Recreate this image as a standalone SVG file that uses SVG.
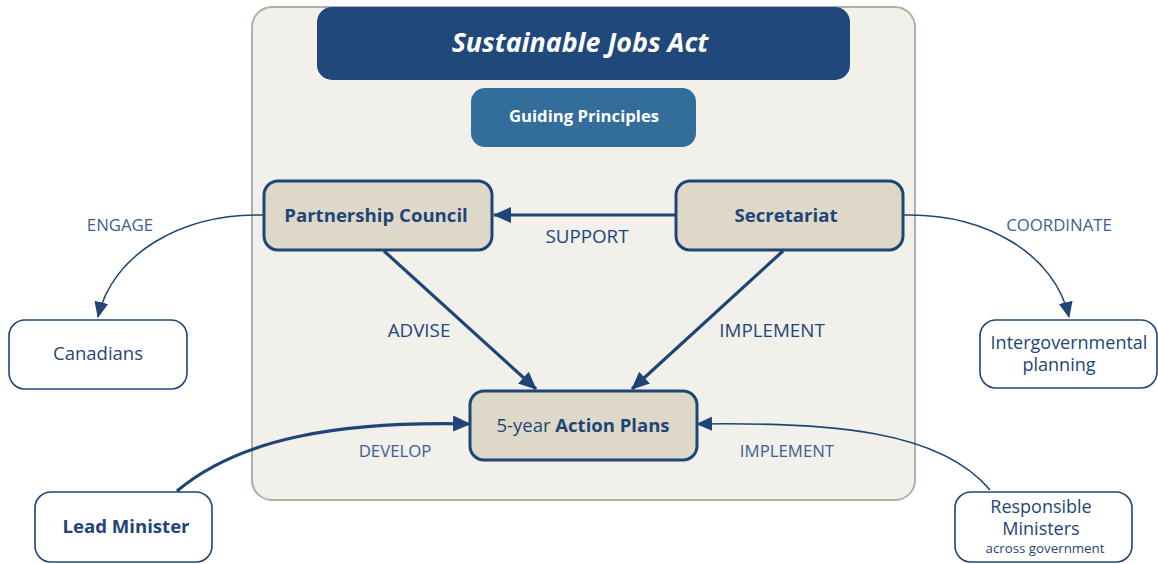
<svg xmlns="http://www.w3.org/2000/svg" width="1158" height="564" viewBox="0 0 1158 564">
<style>
text{font-family:"Open Sans","Noto Sans","Liberation Sans",sans-serif;text-anchor:middle;dominant-baseline:central}
.inner{fill:#ddd8c8;stroke:#1f4577;stroke-width:3}
.outer{fill:#ffffff;stroke:#1f4577;stroke-width:1.6}
.bold{font-weight:700;fill:#1f4577;font-size:18.6px}
.reg{fill:#1f4577;font-size:18.5px}
.ml{fill:#1f4577;font-size:18px}
.lbl{fill:#1f4577;font-size:18.8px}
.lite{fill:#3d6090;font-size:16.8px}
.thick{fill:none;stroke:#1f4577;stroke-width:3.2}
.thin{fill:none;stroke:#1f4577;stroke-width:1.6}
</style>
<defs>
<marker id="ah" markerUnits="userSpaceOnUse" markerWidth="18" markerHeight="18" viewBox="0 0 18 18" refX="17" refY="9" orient="auto">
<path d="M0,1 L18,9 L0,17 Z" fill="#1f4577"/>
</marker>
<marker id="ahs" markerUnits="userSpaceOnUse" markerWidth="16" markerHeight="16" viewBox="0 0 16 16" refX="15" refY="8" orient="auto">
<path d="M0,1 L16,8 L0,15 Z" fill="#1f4577"/>
</marker>
</defs>
<g id="container">
<rect x="252" y="7" width="663" height="493" rx="20" fill="#f1f0eb" stroke="#b3afa3" stroke-width="2"/>
</g>
<g id="title">
<rect x="317" y="7" width="533" height="73" rx="15" fill="#20487b"/>
<text x="580" y="41" font-size="26.8" font-style="italic" font-weight="700" fill="#ffffff">Sustainable Jobs Act</text>
</g>
<g id="guiding">
<rect x="471" y="88" width="225" height="59" rx="14" fill="#336e9b"/>
<text x="584" y="115" font-size="16.7" font-weight="700" fill="#ffffff">Guiding Principles</text>
</g>
<g id="connectors">
<line x1="676" y1="215" x2="494" y2="215" class="thick" marker-end="url(#ah)"/>
<line x1="384" y1="251" x2="536" y2="389" class="thick" marker-end="url(#ah)"/>
<line x1="783" y1="251" x2="632" y2="389" class="thick" marker-end="url(#ah)"/>
<path d="M264,215 C180,213 112,255 98,317" class="thin" marker-end="url(#ahs)"/>
<path d="M903,215 C987,213 1055,255 1069,317" class="thin" marker-end="url(#ahs)"/>
<path d="M177,491 C240,438 340,421 470,424" class="thick" marker-end="url(#ah)"/>
<path d="M990,490 C940,430 830,422 697,424" class="thin" marker-end="url(#ahs)"/>
<text x="587" y="236" class="lbl">SUPPORT</text>
<text x="419" y="330" class="lbl">ADVISE</text>
<text x="772" y="330" class="lbl">IMPLEMENT</text>
<text x="120" y="224" class="lite">ENGAGE</text>
<text x="1059" y="224" class="lite">COORDINATE</text>
<text x="395" y="450" class="lite">DEVELOP</text>
<text x="787" y="450" class="lite">IMPLEMENT</text>
</g>
<g id="partnership">
<rect x="264" y="181" width="228" height="69" rx="14" class="inner"/>
<text x="376" y="214" class="bold">Partnership Council</text>
</g>
<g id="secretariat">
<rect x="676" y="181" width="227" height="69" rx="14" class="inner"/>
<text x="786" y="214" class="bold">Secretariat</text>
</g>
<g id="actionplans">
<rect x="470" y="391" width="227" height="69" rx="14" class="inner"/>
<text x="583" y="424" class="reg"><tspan>5-year </tspan><tspan font-weight="700">Action Plans</tspan></text>
</g>
<g id="canadians">
<rect x="9" y="320" width="178" height="69" rx="16" class="outer"/>
<text x="98" y="352" class="reg">Canadians</text>
</g>
<g id="intergov">
<rect x="980" y="320" width="177" height="68" rx="16" class="outer"/>
<text x="1069" y="342" class="ml">Intergovernmental</text>
<text x="1059" y="364" class="ml">planning</text>
</g>
<g id="leadminister">
<rect x="35" y="492" width="177" height="70" rx="16" class="outer"/>
<text x="126" y="525" class="bold">Lead Minister</text>
</g>
<g id="responsible">
<rect x="955" y="492" width="177" height="70" rx="16" class="outer"/>
<text x="1041" y="506" class="ml">Responsible</text>
<text x="1041" y="528" class="ml">Ministers</text>
<text x="1045" y="548" font-size="13.3" fill="#1f4577">across government</text>
</g>
</svg>
